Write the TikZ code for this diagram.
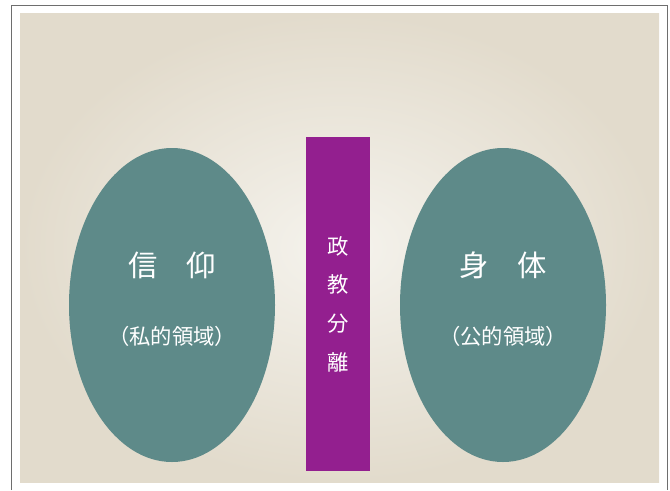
\documentclass[tikz,border=0pt]{standalone}
\usepackage{fontspec}
\newfontfamily\jpfont{Noto Sans CJK JP}
\usetikzlibrary{shapes.geometric}
\definecolor{paperdark}{RGB}{226,219,204}
\definecolor{paperlight}{RGB}{245,243,237}
\definecolor{framegray}{RGB}{110,110,110}
\definecolor{tealgray}{RGB}{94,138,137}
\definecolor{seppurple}{RGB}{147,31,143}

\begin{document}
\begin{tikzpicture}[x=0.75pt,y=0.75pt,yscale=-1,xscale=1]
\useasboundingbox (0,0) rectangle (670,490);

%Shape: Rectangle [paper]
\shade [inner color=paperlight, outer color=paperdark] (20,13) rectangle (659,482) ;
%Straight Lines [frame]
\draw [color=framegray, line width=0.75] (11,490) -- (11,5) -- (667,5) -- (667,490) ;

%Shape: Ellipse [private]
\node (shinko) [ellipse, fill=tealgray, inner sep=0pt, minimum width=154.5pt, minimum height=235.5pt] at (172,305) {};
%Shape: Ellipse [public]
\node (shintai) [ellipse, fill=tealgray, inner sep=0pt, minimum width=154.5pt, minimum height=235.5pt] at (503,305) {};
%Shape: Rectangle [separation]
\node (bunri) [rectangle, fill=seppurple, inner sep=0pt, minimum width=48pt, minimum height=250.5pt] at (338,304) {};

% Text Node
\node (shinko-t) at (172,265) [inner sep=0.75pt, text=white, font=\jpfont\fontsize{22}{26}\selectfont] {信　仰};
% Text Node
\node (shinko-s) at (172,336) [inner sep=0.75pt, text=white, font=\jpfont\fontsize{16}{19}\selectfont] {（私的領域）};
% Text Node
\node (shintai-t) at (503,265) [inner sep=0.75pt, text=white, font=\jpfont\fontsize{22}{26}\selectfont] {身　体};
% Text Node
\node (shintai-s) at (503,336) [inner sep=0.75pt, text=white, font=\jpfont\fontsize{16}{19}\selectfont] {（公的領域）};
% Text Node
\node (bunri-t) at (338,304) [inner sep=0.75pt, text=white, align=center, font=\jpfont\fontsize{16}{29}\selectfont] {政\\教\\分\\離};

\end{tikzpicture}
\end{document}
